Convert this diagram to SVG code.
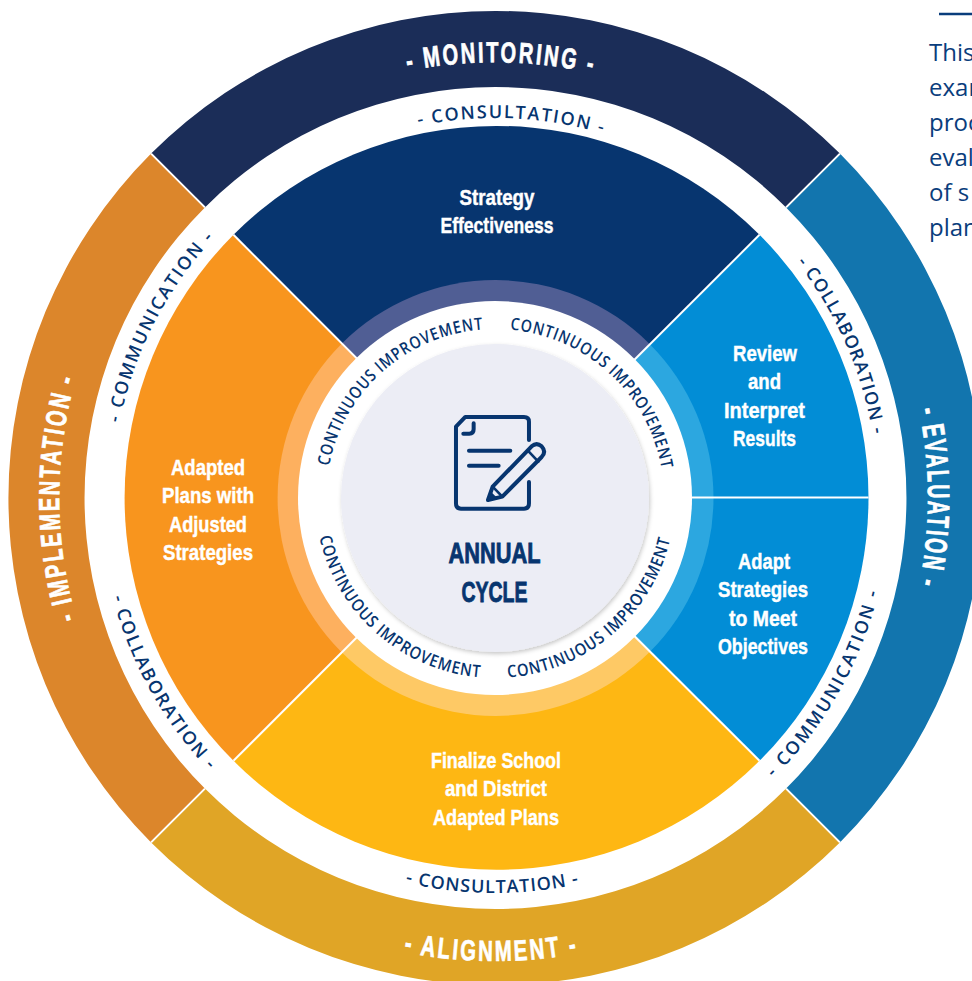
<svg xmlns="http://www.w3.org/2000/svg" width="972" height="981" viewBox="0 0 972 981">
<style>
.big{font-family:"Liberation Sans Narrow","Liberation Sans",sans-serif;font-weight:700;font-size:29px;letter-spacing:3.500px;fill:#fff;stroke:#fff;stroke-width:.7;text-anchor:middle}
.mid{font-family:"Open Sans","Liberation Sans",sans-serif;font-weight:600;font-size:18px;fill:#07356f;text-anchor:middle}
.imp{font-family:"Open Sans","Liberation Sans",sans-serif;font-weight:600;font-size:17px;letter-spacing:1px;fill:#07356f;text-anchor:middle}
.lab{font-family:"Liberation Sans Narrow","Liberation Sans",sans-serif;font-weight:700;font-size:22.500px;fill:#fff;stroke:#fff;stroke-width:.45;text-anchor:middle}
.ctr{font-family:"Liberation Sans Narrow","Liberation Sans",sans-serif;font-weight:700;font-size:30px;fill:#07356f;stroke:#07356f;stroke-width:.9;text-anchor:middle}
.note{font-family:"Open Sans","Liberation Sans",sans-serif;font-size:24px;fill:#0a3d7c}
.div{stroke:#fff;stroke-width:2;fill:none}
.ic{fill:none;stroke:#07356f;stroke-width:12;stroke-linecap:round;stroke-linejoin:round}
</style>
<defs>
<path id="t436" d="M59 498A436 436 0 0 1 931 498"/>
<path id="t433" d="M62 498A433 433 0 0 1 928 498"/>
<path id="t380" d="M115 498A380 380 0 0 1 875 498"/>
<path id="t383" d="M112 498A383 383 0 0 1 878 498"/>
<path id="t169" d="M326 498A169 169 0 0 1 664 498"/>
<path id="b463" d="M32 498A463 463 0 0 0 958 498"/>
<path id="b395" d="M100 498A395 395 0 0 0 890 498"/>
<path id="b180" d="M315 498A180 180 0 0 0 675 498"/>
<filter id="sh" x="-10%" y="-10%" width="120%" height="120%"><feDropShadow dx="1" dy="2" stdDeviation="2" flood-color="#000" flood-opacity=".22"/></filter>
</defs>
<rect width="972" height="981" fill="#fff"/>

<g id="note">
<line x1="939" y1="14" x2="972" y2="14" stroke="#0a3d7c" stroke-width="2.500"/>
<text class="note" x="929" y="61">This</text>
<text class="note" x="929" y="96">exam</text>
<text class="note" x="929" y="131">proc</text>
<text class="note" x="929" y="166">eval</text>
<text class="note" x="929" y="201">of s</text>
<text class="note" x="929" y="236">plan</text>
</g>

<g id="monitoring">
<path fill="#1b2d58" d="M151.100 153.600A487 487 0 0 1 839.900 153.600L786.100 207.400A411 411 0 0 0 204.900 207.400Z"/>
<text class="big" transform="rotate(.8 495 498)"><textPath href="#t436" startOffset="50%" textLength="188" lengthAdjust="spacingAndGlyphs">- MONITORING -</textPath></text>
</g>
<g id="evaluation">
<path fill="#1275ae" d="M839.900 153.600A487 487 0 0 1 839.900 842.400L786.100 788.600A411 411 0 0 0 786.100 207.400Z"/>
<text class="big" style="font-size:31px" transform="rotate(90 495 498)"><textPath href="#t433" startOffset="50%" textLength="178" lengthAdjust="spacingAndGlyphs">- EVALUATION -</textPath></text>
</g>
<g id="alignment">
<path fill="#e0a526" d="M839.900 842.400A487 487 0 0 1 151.100 842.400L204.900 788.600A411 411 0 0 0 786.100 788.600Z"/>
<text class="big" transform="rotate(.45 495 498)"><textPath href="#b463" startOffset="50%" textLength="177" lengthAdjust="spacingAndGlyphs">- ALIGNMENT -</textPath></text>
</g>
<g id="implementation">
<path fill="#dc862b" d="M151.100 842.400A487 487 0 0 1 151.100 153.600L204.900 207.400A411 411 0 0 0 204.900 788.600Z"/>
<text class="big" transform="rotate(-90 495 498)"><textPath href="#t436" startOffset="50%" textLength="245" lengthAdjust="spacingAndGlyphs">- IMPLEMENTATION -</textPath></text>
</g>

<g id="strategy-effectiveness">
<path fill="#07356f" d="M496 498L233.500 234.800A372 372 0 0 1 759.500 234.800Z"/>
<path fill="#505e94" d="M495.500 498L341.400 343.900A218 218 0 0 1 649.600 343.900Z"/>
<text class="lab" x="497" y="205" textLength="75" lengthAdjust="spacingAndGlyphs">Strategy</text>
<text class="lab" x="497" y="233" textLength="113" lengthAdjust="spacingAndGlyphs">Effectiveness</text>
</g>
<g id="review-results">
<path fill="#028dd6" d="M496 498L759.500 234.800A372 372 0 0 1 868.500 497.500H496Z"/>
<path fill="#2ca7e0" d="M495.500 498L649.600 343.900A218 218 0 0 1 713.500 498Z"/>
<text class="lab" x="765" y="361" textLength="64" lengthAdjust="spacingAndGlyphs">Review</text>
<text class="lab" x="764.500" y="389" textLength="33" lengthAdjust="spacingAndGlyphs">and</text>
<text class="lab" x="764.500" y="418" textLength="81" lengthAdjust="spacingAndGlyphs">Interpret</text>
<text class="lab" x="764.500" y="446" textLength="63" lengthAdjust="spacingAndGlyphs">Results</text>
</g>
<g id="adapt-strategies">
<path fill="#028dd6" d="M496 497.500H868.500A372 372 0 0 1 759.500 760.800Z"/>
<path fill="#2ca7e0" d="M495.500 498L713.500 498A218 218 0 0 1 649.600 652.100Z"/>
<text class="lab" x="764" y="569" textLength="52" lengthAdjust="spacingAndGlyphs">Adapt</text>
<text class="lab" x="763" y="597" textLength="90" lengthAdjust="spacingAndGlyphs">Strategies</text>
<text class="lab" x="763" y="626" textLength="68" lengthAdjust="spacingAndGlyphs">to Meet</text>
<text class="lab" x="763" y="654" textLength="90" lengthAdjust="spacingAndGlyphs">Objectives</text>
</g>
<g id="finalize-plans">
<path fill="#feb713" d="M496 498L759.500 760.800A372 372 0 0 1 233.500 760.800Z"/>
<path fill="#fec965" d="M495.500 498L649.600 652.100A218 218 0 0 1 341.400 652.100Z"/>
<text class="lab" x="496" y="768" textLength="130" lengthAdjust="spacingAndGlyphs">Finalize School</text>
<text class="lab" x="496" y="796" textLength="102" lengthAdjust="spacingAndGlyphs">and District</text>
<text class="lab" x="496" y="825" textLength="126" lengthAdjust="spacingAndGlyphs">Adapted Plans</text>
</g>
<g id="adapted-plans">
<path fill="#f8951e" d="M496 498L233.500 760.800A372 372 0 0 1 233.500 234.800Z"/>
<path fill="#fdb05f" d="M495.500 498L341.400 652.100A218 218 0 0 1 341.400 343.900Z"/>
<text class="lab" x="208" y="475" textLength="74" lengthAdjust="spacingAndGlyphs">Adapted</text>
<text class="lab" x="208" y="503" textLength="92" lengthAdjust="spacingAndGlyphs">Plans with</text>
<text class="lab" x="208" y="532" textLength="78" lengthAdjust="spacingAndGlyphs">Adjusted</text>
<text class="lab" x="208" y="560" textLength="90" lengthAdjust="spacingAndGlyphs">Strategies</text>
</g>

<g id="connectors">
<line class="div" x1="839.900" y1="153.600" x2="786.100" y2="207.400"/>
<line class="div" x1="151.100" y1="153.600" x2="204.900" y2="207.400"/>
<line class="div" x1="839.900" y1="842.400" x2="786.100" y2="788.600"/>
<line class="div" x1="151.100" y1="842.400" x2="204.900" y2="788.600"/>
<line class="div" x1="759.500" y1="234.800" x2="496" y2="498"/>
<line class="div" x1="233.500" y1="234.800" x2="496" y2="498"/>
<line class="div" x1="759.500" y1="760.800" x2="496" y2="498"/>
<line class="div" x1="233.500" y1="760.800" x2="496" y2="498"/>
<line class="div" x1="868.500" y1="497.500" x2="496" y2="497.500"/>
</g>

<g id="ring-labels">
<text class="mid" transform="rotate(2.400 495 498)"><textPath href="#t380" startOffset="50%" textLength="186" lengthAdjust="spacing">- CONSULTATION -</textPath></text>
<text class="mid" transform="rotate(.45 495 498)"><textPath href="#b395" startOffset="50%" textLength="175" lengthAdjust="spacing">- CONSULTATION -</textPath></text>
<text class="mid" transform="rotate(66.200 495 498)"><textPath href="#t383" startOffset="50%" textLength="190" lengthAdjust="spacing">- COLLABORATION -</textPath></text>
<text class="mid" transform="rotate(-60.500 495 498)"><textPath href="#b395" startOffset="50%" textLength="216" lengthAdjust="spacing">- COMMUNICATION -</textPath></text>
<text class="mid" transform="rotate(61 495 498)"><textPath href="#b395" startOffset="50%" textLength="200" lengthAdjust="spacing">- COLLABORATION -</textPath></text>
<text class="mid" transform="rotate(-63 495 498)"><textPath href="#t383" startOffset="50%" textLength="210" lengthAdjust="spacing">- COMMUNICATION -</textPath></text>
</g>

<g id="annual-cycle">
<circle cx="495" cy="498" r="197" fill="#fff"/>
<circle cx="495" cy="498" r="154" fill="#ecedf5" filter="url(#sh)"/>
<text class="imp" transform="rotate(-41.500 495 498)"><textPath href="#t169" startOffset="50%" textLength="222" lengthAdjust="spacingAndGlyphs">CONTINUOUS IMPROVEMENT</textPath></text>
<text class="imp" transform="rotate(42.700 495 498)"><textPath href="#t169" startOffset="50%" textLength="222" lengthAdjust="spacingAndGlyphs">CONTINUOUS IMPROVEMENT</textPath></text>
<text class="imp" transform="rotate(41 495 498)"><textPath href="#b180" startOffset="50%" textLength="229" lengthAdjust="spacingAndGlyphs">CONTINUOUS IMPROVEMENT</textPath></text>
<text class="imp" transform="rotate(-40.500 495 498)"><textPath href="#b180" startOffset="50%" textLength="229" lengthAdjust="spacingAndGlyphs">CONTINUOUS IMPROVEMENT</textPath></text>
<g transform="translate(270 270) scale(.3333)">
<path class="ic" d="M777 510V455Q777 441 762 441H586L558 470V700Q558 716 573 716H762Q777 716 777 700V636"/>
<path class="ic" d="M611 460V478Q611 491 598 491H580M597 542H721M597 587H686"/>
<path class="ic" d="M654 690L668 650L785 529Q800 516 815 529Q830 545 815 561L697 680Z"/>
<path class="ic" style="stroke-width:8" d="M773 541L805 575M668 650L697 680"/>
<path fill="#07356f" d="M650 694L661 664L682 684Z"/>
</g>
<text class="ctr" x="494.500" y="563" textLength="92" lengthAdjust="spacingAndGlyphs">ANNUAL</text>
<text class="ctr" x="494.500" y="602" textLength="66" lengthAdjust="spacingAndGlyphs">CYCLE</text>
</g>
</svg>
